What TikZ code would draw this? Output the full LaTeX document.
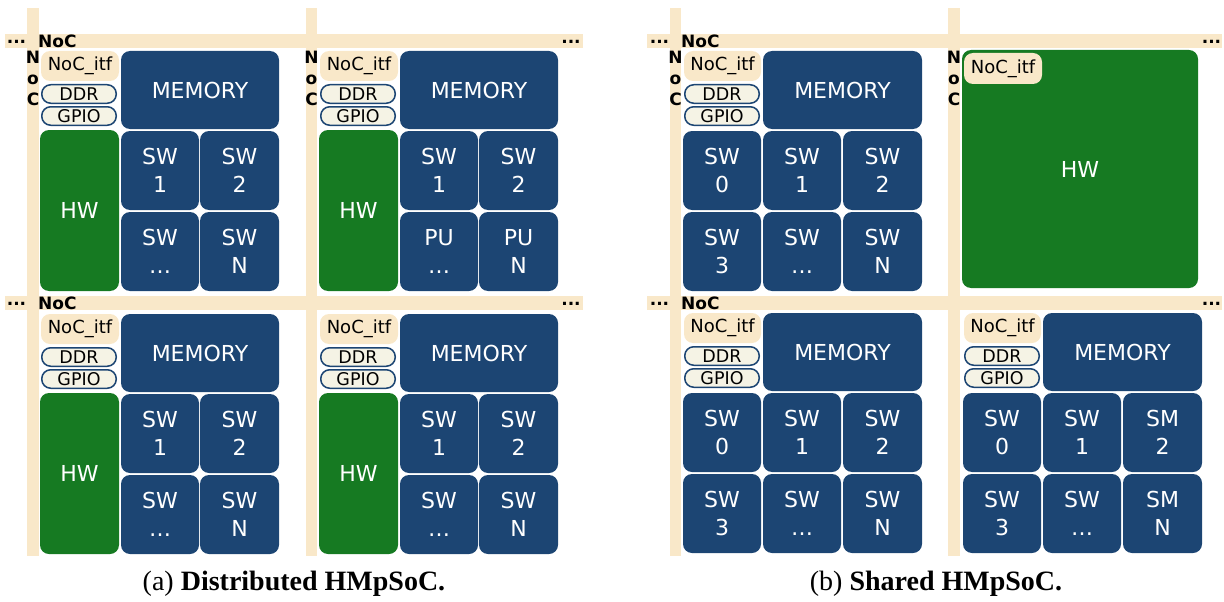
\documentclass[tikz,border=0pt]{standalone}
\usepackage{fontspec}
\setmainfont{DejaVu Sans}
\newfontfamily\capfont{Liberation Serif}
\definecolor{nocbg}{HTML}{F9E8C9}
\definecolor{pillbg}{HTML}{F5F3E5}
\definecolor{blk}{HTML}{1C4573}
\definecolor{hwgreen}{HTML}{167A22}
\newcommand\bx[7]{%
  \pgfmathsetmacro\bxw{#4-#2}\pgfmathsetmacro\bxh{#5-#3}%
  \node[#6, minimum width=\bxw pt, minimum height=\bxh pt] (#1) at ({(#2+#4)/2},{(#3+#5)/2}) {#7};}
\newcommand\tileA[5]{%
  \begin{scope}[shift={(#2,#3)}]
  \bx{#1itf}{41}{51}{119}{81}{itf}{NoC\_itf}
  \bx{#1ddr}{41.75}{84.75}{116.25}{103.25}{pill}{DDR}
  \bx{#1gpio}{41.75}{106.75}{116.25}{125.25}{pill}{GPIO}
  \bx{#1mem}{121}{51}{279}{129}{blkbox}{MEMORY}
  \bx{#1hw}{40}{130}{119}{291}{hwbox}{HW}
  \bx{#1ca}{121}{131}{199}{210}{blkbox}{SW\\1}
  \bx{#1cb}{200}{131}{279}{210}{blkbox}{SW\\2}
  \bx{#1cc}{121}{212}{199}{291}{blkbox}{#4}
  \bx{#1cd}{200}{212}{279}{291}{blkbox}{#5}
  \end{scope}}
\newcommand\tileB[5]{%
  \begin{scope}[shift={(#2,#3)}]
  \bx{#1itf}{684}{51}{761}{81}{itf}{NoC\_itf}
  \bx{#1ddr}{684.75}{84.75}{759.25}{103.25}{pill}{DDR}
  \bx{#1gpio}{684.75}{106.75}{759.25}{125.25}{pill}{GPIO}
  \bx{#1mem}{763}{51}{922}{129}{blkbox}{MEMORY}
  \bx{#1ca}{683}{131}{761}{210}{blkbox}{SW\\0}
  \bx{#1cb}{763}{131}{841}{210}{blkbox}{SW\\1}
  \bx{#1cc}{843}{131}{922}{210}{blkbox}{#4}
  \bx{#1cd}{683}{212}{761}{291}{blkbox}{SW\\3}
  \bx{#1ce}{763}{212}{841}{291}{blkbox}{SW\\…}
  \bx{#1cf}{843}{212}{922}{291}{blkbox}{#5}
  \end{scope}}
\begin{document}
\begin{tikzpicture}[x=1pt,y=-1pt,
  lbl/.style={font=\bfseries\fontsize{17}{21}\selectfont, inner sep=0, align=center},
  blkbox/.style={rectangle, rounded corners=9pt, fill=blk, text=white, font=\fontsize{22}{28}\selectfont, align=center, inner sep=0},
  hwbox/.style={blkbox, fill=hwgreen},
  itf/.style={rectangle, rounded corners=9pt, fill=nocbg, font=\fontsize{18}{20}\selectfont, inner sep=0},
  pill/.style={rectangle, rounded corners=9pt, fill=pillbg, draw=blk, line width=1.5pt, font=\fontsize{17.5}{20}\selectfont, inner sep=0},
  capt/.style={font=\capfont\fontsize{28}{32}\selectfont, inner sep=0}]
\useasboundingbox (0,0) rectangle (1224,602);
% NoC bars, panel (a)
\fill[nocbg] (5,34) rectangle (583,48);
\fill[nocbg] (5,296) rectangle (583,310);
\fill[nocbg] (27,8) rectangle (39,556);
\fill[nocbg] (306,8) rectangle (317,556);
% NoC bars, panel (b)
\fill[nocbg] (647,34) rectangle (1222,48);
\fill[nocbg] (647,296) rectangle (1222,310);
\fill[nocbg] (670,8) rectangle (681,556);
\fill[nocbg] (948,8) rectangle (960,556);
% labels panel (a)
\node[lbl] (aDotsL1) at (16.5,41.5) {...};
\node[lbl, anchor=base west] (aNoC1) at (38,47.5) {NoC};
\node[lbl] (aDotsR1) at (571,42) {...};
\node[lbl] (aDotsL2) at (16.5,303.5) {...};
\node[lbl, anchor=base west] (aNoC2) at (38,309.5) {NoC};
\node[lbl] (aDotsR2) at (571,304) {...};
\node[lbl] (aVNoC1) at (33,78) {N\\o\\C};
\node[lbl] (aVNoC2) at (311.5,78) {N\\o\\C};
% labels panel (b)
\node[lbl] (bDotsL1) at (659.5,41.5) {...};
\node[lbl, anchor=base west] (bNoC1) at (681,47.5) {NoC};
\node[lbl] (bDotsR1) at (1211.5,42) {...};
\node[lbl] (bDotsL2) at (659.5,303.5) {...};
\node[lbl, anchor=base west] (bNoC2) at (681,309.5) {NoC};
\node[lbl] (bDotsR2) at (1211.5,304) {...};
\node[lbl] (bVNoC1) at (675.5,78) {N\\o\\C};
\node[lbl] (bVNoC2) at (954,78) {N\\o\\C};
% tiles panel (a)
\tileA{aTL}{0}{0}{SW\\…}{SW\\N}
\tileA{aTR}{279}{0}{PU\\…}{PU\\N}
\tileA{aBL}{0}{263}{SW\\…}{SW\\N}
\tileA{aBR}{279}{263}{SW\\…}{SW\\N}
% tiles panel (b)
\tileB{bTL}{0}{0}{SW\\2}{SW\\N}
\tileB{bBL}{0}{262}{SW\\2}{SW\\N}
\tileB{bBR}{280}{262}{SM\\2}{SM\\N}
\bx{bTRhw}{962}{50}{1198}{288}{hwbox}{HW}
\bx{bTRitf}{964}{53}{1042}{84}{itf}{NoC\_itf}
% captions
\node[capt] (capA) at (294,584) {(a) \textbf{Distributed HMpSoC.}};
\node[capt] (capB) at (936,584) {(b) \textbf{Shared HMpSoC.}};
\end{tikzpicture}
\end{document}
